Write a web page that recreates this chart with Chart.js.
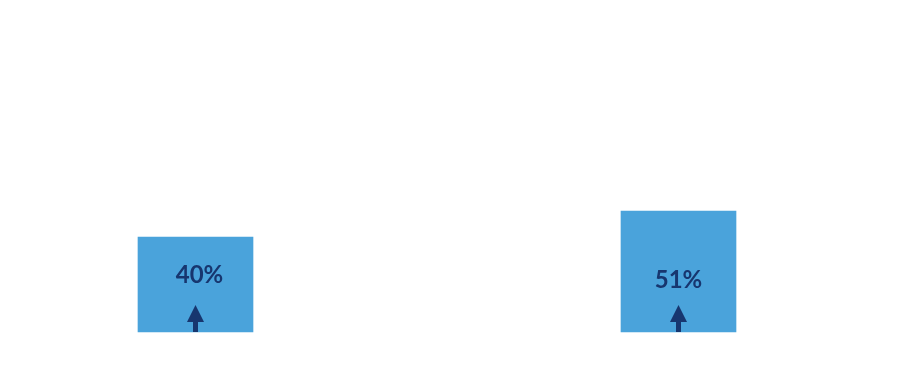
<!DOCTYPE html>
<html>
<head>
<meta charset="utf-8">
<script src="https://cdn.jsdelivr.net/npm/chart.js@4.4.0/dist/chart.umd.min.js"></script>
<style>
  html, body { margin: 0; padding: 0; background: #fff; }
  #wrap { width: 908px; height: 373px; }
</style>
</head>
<body>
<div id="wrap"><canvas id="bars"></canvas></div>
<script>
    var categories = ['A', 'B'];
    var values = [40, 51];
    var labels = ['40%', '51%'];

    // label + up arrow inside each bar
    var barMarks = {
        id: 'barMarks',
        afterDatasetsDraw: function (chart) {
            var c = chart.ctx;
            var meta = chart.getDatasetMeta(0);
            c.save();
            c.fillStyle = '#17366f';
            c.textAlign = 'center';
            c.textBaseline = 'middle';
            c.font = 'bold 24px Lato';
            meta.data.forEach(function (bar, i) {
                var x = bar.x, base = bar.base;
                c.fillText(labels[i], x + (i === 0 ? 4 : 0), base - (i === 0 ? 57 : 52));
                // arrow head
                c.beginPath();
                c.moveTo(x, base - 27);
                c.lineTo(x + 8.5, base - 10);
                c.lineTo(x - 8.5, base - 10);
                c.closePath();
                c.fill();
                // stem
                c.fillRect(x - 2.5, base - 11, 5, 11);
            });
            c.restore();
        }
    };

    var ctx = document.getElementById('bars').getContext('2d');
    var chart = new Chart(ctx, {
        type: 'bar',
        data: {
            labels: categories,
            datasets: [{
                data: values,
                backgroundColor: '#4aa3db',
                barThickness: 115,
                clip: false
            }]
        },
        options: {
            responsive: true,
            maintainAspectRatio: false,
            animation: false,
            layout: { padding: { left: 195.5, right: 229.5, top: 0, bottom: 41 } },
            plugins: { legend: { display: false }, tooltip: { enabled: false } },
            scales: {
                x: { display: false, offset: false, grid: { display: false } },
                y: { display: false, min: 0, max: 140, grid: { display: false } }
            }
        },
        plugins: [barMarks]
    });
</script>
</body>
</html>
